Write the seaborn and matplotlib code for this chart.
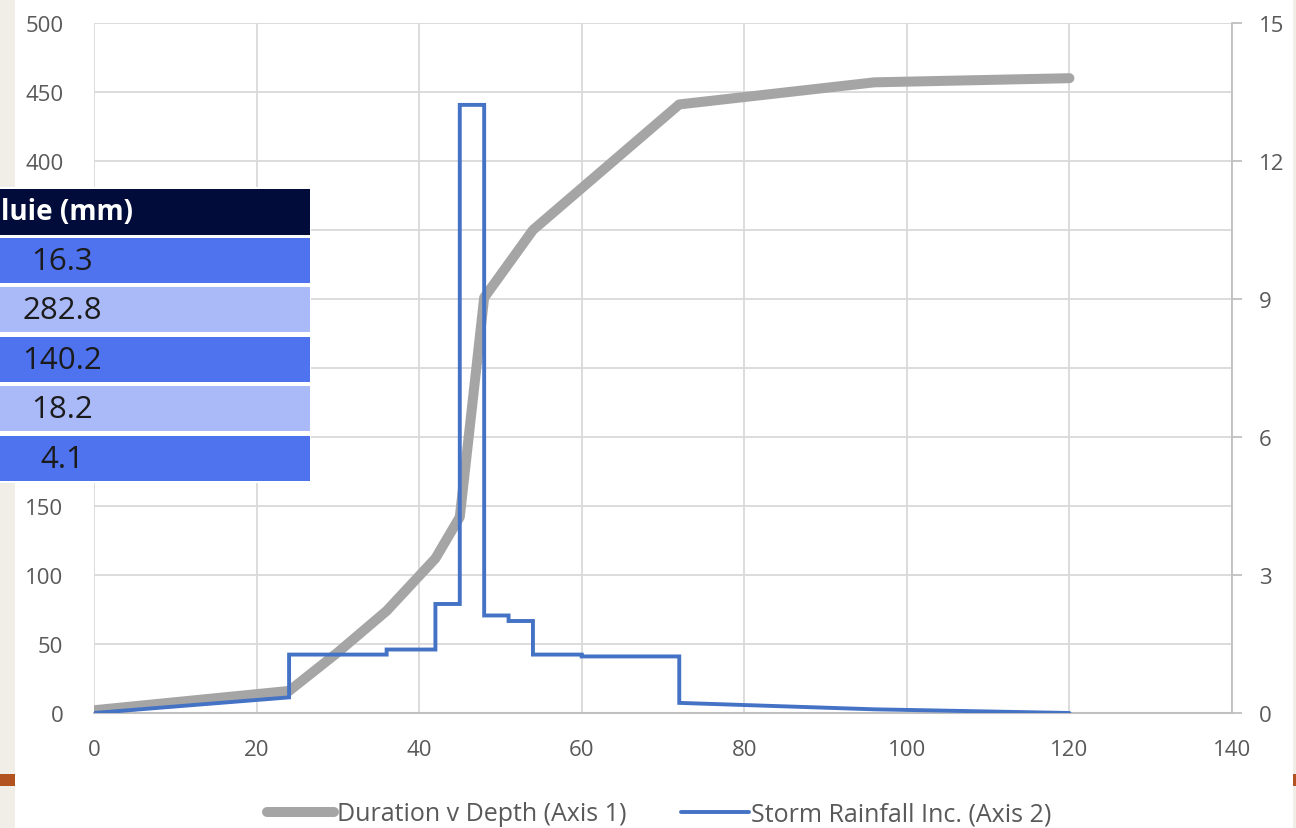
import matplotlib
matplotlib.use("Agg")
import matplotlib.pyplot as plt
from matplotlib.patches import Rectangle
import seaborn as sns
import pandas as pd

# --- data ---
depth_hours = [0, 24, 30, 36, 42, 45, 48, 54, 72, 96, 120]
depth_mm = [2, 16, 44, 74, 112, 142, 301, 350, 441, 457, 460]

rain_hours = [0, 24, 24, 36, 36, 42, 42, 45, 45, 48, 48, 51, 51, 54, 54, 60, 60, 72, 72, 96, 120]
rain_mm = [0, 0.34, 1.27, 1.27, 1.38, 1.38, 2.37, 2.37, 13.22, 13.22, 2.12, 2.12, 2.0, 2.0,
           1.27, 1.27, 1.23, 1.23, 0.22, 0.08, 0]

x_ticks = [0, 20, 40, 60, 80, 100, 120, 140]
left_ticks = [0, 50, 100, 150, 200, 250, 300, 350, 400, 450, 500]
# 200-350 sit under the table in the reference, so they show no label
left_labels = ['0', '50', '100', '150', '', '', '', '', '400', '450', '500']
right_ticks = [0, 3, 6, 9, 12, 15]

table_header = "luie (mm)"
table_values = ["16.3", "282.8", "140.2", "18.2", "4.1"]

depth_label = "Duration v Depth (Axis 1)"
rain_label = "Storm Rainfall Inc. (Axis 2)"

sns.set_theme(style="white")
plt.rcParams['font.family'] = ['Open Sans', 'DejaVu Sans']

W, H = 1296, 829
fig = plt.figure(figsize=(W / 100, H / 100), dpi=100)
fig.patch.set_facecolor('white')

ax = fig.add_axes([94 / W, 1 - 714 / H, (1232 - 94) / W, (714 - 24) / H])
ax2 = ax.twinx()

grid_c = '#d9d9d9'
axis_c = '#bfbfbf'
text_c = '#595959'
gray_c = '#a5a5a5'
blue_c = '#4472c4'

depth_df = pd.DataFrame({'hours': depth_hours, 'depth': depth_mm})
rain_df = pd.DataFrame({'hours': rain_hours, 'rain': rain_mm})

sns.lineplot(data=depth_df, x='hours', y='depth', ax=ax, color=gray_c, linewidth=7.2,
             estimator=None, sort=False, solid_capstyle='round', solid_joinstyle='round',
             legend=False, zorder=3)
sns.lineplot(data=rain_df, x='hours', y='rain', ax=ax2, color=blue_c, linewidth=2.8,
             estimator=None, sort=False, solid_joinstyle='miter', legend=False, zorder=3)

ax.set_xlim(0, 140)
ax.set_ylim(0, 500)
ax2.set_ylim(0, 15)
ax.set_xticks(x_ticks)
ax.set_yticks(left_ticks)
ax.set_yticklabels(left_labels)
ax2.set_yticks(right_ticks)
ax.set_xlabel('')
ax.set_ylabel('')
ax2.set_ylabel('')

ax.grid(True, color=grid_c, linewidth=1.3)
ax.set_axisbelow(True)
ax2.grid(False)

for s in ['top', 'left']:
    ax.spines[s].set_visible(False)
    ax2.spines[s].set_visible(False)
ax.spines['right'].set_visible(False)
ax.spines['bottom'].set_color(axis_c)
ax.spines['bottom'].set_linewidth(1.5)
ax2.spines['bottom'].set_visible(False)
ax2.spines['right'].set_color(axis_c)
ax2.spines['right'].set_linewidth(1.3)

ax.tick_params(axis='x', length=0, pad=19, labelsize=16, labelcolor=text_c)
ax.tick_params(axis='y', length=0, pad=22, labelsize=16, labelcolor=text_c)
ax2.tick_params(axis='y', right=True, direction='out', length=7.5, width=1.3, color=axis_c,
                pad=12, labelsize=16, labelcolor=text_c)

# legend below the plot
handles = [plt.Line2D([], [], color=gray_c, linewidth=7.2, solid_capstyle='round'),
           plt.Line2D([], [], color=blue_c, linewidth=2.8)]
fig.legend(handles, [depth_label, rain_label], loc='center', bbox_to_anchor=(659 / W, 1 - 815 / H),
           ncol=2, frameon=False, fontsize=18, labelcolor=text_c, handlelength=2.7,
           handletextpad=0.1, columnspacing=2.2)

# page edges behind the chart (slide background)
def px_rect(x0, y0, x1, y1, color, z=1):
    fig.patches.append(Rectangle((x0 / W, 1 - y1 / H), (x1 - x0) / W, (y1 - y0) / H,
                                 transform=fig.transFigure, facecolor=color, edgecolor='none',
                                 zorder=z))

px_rect(0, 0, 15, H, '#f1ede7')
px_rect(1293, 0, W, H, '#f1ede7')
px_rect(0, 775, 15, 787, '#b3531f')
px_rect(1293, 775, W, 787, '#b3531f')

# overlapping table on the left
px_rect(0, 188, 311, 484, 'white', z=4)
px_rect(0, 190, 310, 236, '#020c3a', z=5)
row_tops = [239, 288, 338, 387, 437]
row_colors = ['#4f73ee', '#aab9f8', '#4f73ee', '#aab9f8', '#4f73ee']
for top, col in zip(row_tops, row_colors):
    px_rect(0, top, 310, top + 45, col, z=5)

fig.text(1 / W, 1 - 213 / H, table_header, ha='left', va='center', color='white',
         fontsize=20, fontweight='bold', zorder=6)
for top, val in zip(row_tops, table_values):
    fig.text(62 / W, 1 - (top + 23) / H, val, ha='center', va='center', color='#1b1b1b',
             fontsize=22.5, zorder=6)

fig.savefig('out.png', dpi=100)
